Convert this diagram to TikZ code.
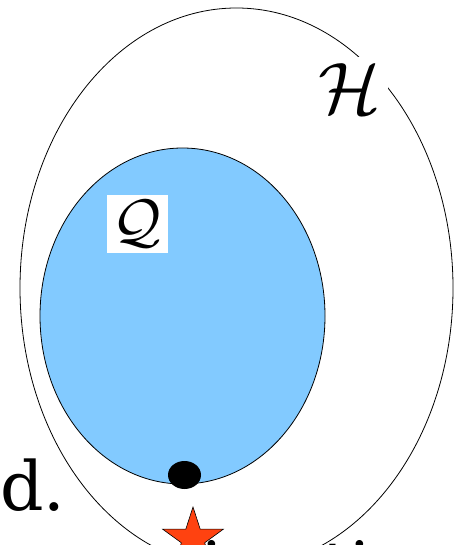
\documentclass[tikz,border=0pt]{standalone}
\usepackage{fontspec}
\newfontfamily\labelfont{DejaVu Serif}
\usetikzlibrary{shapes.geometric}
\definecolor{setblue}{RGB}{130,202,255}
\definecolor{starred}{RGB}{255,66,16}

\begin{document}
\begin{tikzpicture}[x=1pt, y=-1pt,
  setline/.style={draw=black, line width=0.8pt},
  setname/.style={fill=white, inner sep=1pt},
  word/.style={font=\labelfont\fontsize{68}{72}\selectfont, inner sep=0pt}
]
  \useasboundingbox (0,0) rectangle (454,545);
  \clip (0,0) rectangle (454,545);

  % Sets
  \draw[setline] (236.5,288) ellipse [x radius=216.5, y radius=280];
  \draw[setline, fill=setblue] (182.5,316) ellipse [x radius=142.5, y radius=168];

  % Set names
  \node[setname, scale=7.3] (hname) at (350,89) {$\mathcal{H}$};
  \node[setname, scale=6] (qname) at (137,224) {$\mathcal{Q}$};

  % Points
  \node[ellipse, fill=black, minimum width=33pt, minimum height=28pt,
    inner sep=0pt] (dot) at (184.5,475) {};
  \node[star, star points=5, star point ratio=2.618, draw=black, line width=0.6pt,
    fill=starred, minimum size=64pt, inner sep=0pt] (mark) at (193,539) {};

  % Cut-off words
  \node[word, anchor=base west] (dtext) at (0,510) {d.};
  \node[word, anchor=base] (itext) at (212,590) {i};
  \node[word, anchor=base west] (titext) at (322,590) {ti};
\end{tikzpicture}
\end{document}
